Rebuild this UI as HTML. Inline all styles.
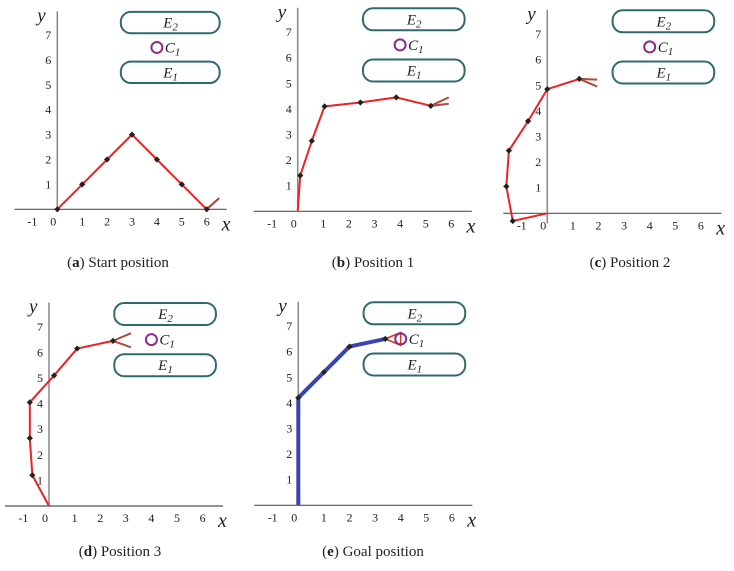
<!DOCTYPE html>
<html><head><meta charset="utf-8"><style>
body{margin:0;background:#fff;width:734px;height:571px;overflow:hidden}
svg{position:absolute;left:0;top:0}
text{font-family:"Liberation Serif",serif}
</style></head><body>
<svg id="fig" width="734" height="571" viewBox="0 0 734 571"></svg>
<script>
const panelIds=["a","b","c","d","e"];
const panelCaptionsBold=["a","b","c","d","e"];
const panelCaptions=[" Start position"," Position 1"," Position 2"," Position 3"," Goal position"];
const chainA=[[0,0],[1,1],[2,2],[3,3],[4,2],[5,1],[6,0]];
const chainB=[[0,0],[0.1,1.4],[0.55,2.75],[1.05,4.1],[2.45,4.25],[3.85,4.45],[5.2,4.12]];
const chainC=[[0,0],[-1.35,-0.3],[-1.6,1.05],[-1.5,2.45],[-0.75,3.6],[0,4.85],[1.25,5.25]];
const chainD=[[0,0],[-0.65,1.2],[-0.75,2.65],[-0.75,4.05],[0.2,5.1],[1.1,6.15],[2.5,6.45]];
const chainE=[[0,0],[0,4.2],[1,5.2],[2,6.2],[3.4,6.5]];
const grippers=[[[6.5,0.45],[6.5,0.45]],[[5.9,4.45],[5.9,4.2]],[[1.95,5.22],[1.95,4.95]],[[3.2,6.75],[3.2,6.2]],[[4,6.75],[4,6.25]]];
const xTicks=[-1,0,1,2,3,4,5,6];
const yTicks=[1,2,3,4,5,6,7];
const chains=[chainA,chainB,chainC,chainD,chainE];
const layout=[{ox:57.3,oy:209.3,u:24.9,cx:118,cy:267},{ox:297.7,oy:211.3,u:25.6,cx:373,cy:267},{ox:547.3,oy:213.3,u:25.6,cx:630,cy:267},{ox:49,oy:506,u:25.6,cx:120,cy:556},{ox:298.3,oy:505.3,u:25.6,cx:373,cy:556}];
const NS="http://www.w3.org/2000/svg";
const svg=document.getElementById("fig");
function mk(tag,attrs,parent,txt){const e=document.createElementNS(NS,tag);for(const k in attrs)e.setAttribute(k,attrs[k]);if(txt!==undefined)e.textContent=txt;parent.appendChild(e);return e;}
panelIds.forEach((id,i)=>{
 const L=layout[i];
 const X=v=>L.ox+v*L.u, Y=v=>L.oy-v*L.u;
 const g=mk("g",{},svg);
 
 
 const xa=mk("line",{x1:X(-1.72),y1:L.oy,x2:X(6.8),y2:L.oy,stroke:"#555","stroke-width":1.2},g);
 
 
 const ya=mk("line",{x1:L.ox,y1:Y(i==2?-0.4:0),x2:L.ox,y2:Y(7.95),stroke:"#888","stroke-width":1.5},g);
 
 
 xTicks.forEach(t=>{const tx=mk("text",{x:X(t)-(t===0?4:0),y:L.oy+16,"font-size":12,"text-anchor":"middle",fill:"#222"},g,String(t));
  
  });
 yTicks.forEach(t=>{const ty=mk("text",{x:L.ox-9,y:Y(t)+4,"font-size":12,"text-anchor":"middle",fill:"#222"},g,String(t));
  
  });
 const xl=mk("text",{x:X(6.6),y:L.oy+21,"font-size":20,"font-style":"italic",fill:"#222"},g,"x");
 
 
 const yl=mk("text",{x:L.ox-20,y:Y(7.55),"font-size":19,"font-style":"italic",fill:"#222"},g,"y");
 
 
 [["E","2",7.5,"obstacle-e2"],["E","1",5.5,"obstacle-e1"]].forEach(b=>{
  const r=mk("rect",{x:X(2.55),y:Y(b[2]+0.43),width:X(6.52)-X(2.55),height:0.86*L.u,rx:10,fill:"none",stroke:"#2f6b6a","stroke-width":2},g);
  
  
  const t=mk("text",{x:X(4.55),y:Y(b[2])+5,"font-size":15,"font-style":"italic","text-anchor":"middle",fill:"#222"},g);
  
  
  t.appendChild(document.createTextNode(b[0]));
  mk("tspan",{"font-size":11,dy:3},t,b[1]);
 });
 const path=chains[i];
 const gp=grippers[i];
 const end=path[path.length-1];
 if(i===4){
  const gl=mk("polygon",{points:`${X(end[0])},${Y(end[1])} ${X(gp[0][0])},${Y(gp[0][1])} ${X(gp[1][0])},${Y(gp[1][1])}`,fill:"none",stroke:"#d03a2a","stroke-width":1.6},g);
  
  
 }
 const c=mk("circle",{cx:X(4),cy:Y(6.5),r:5.5,fill:"none",stroke:"#8e2a8e","stroke-width":2},g);
 
 
 const ct=mk("text",{x:X(4)+8,y:Y(6.5)+5,"font-size":15,"font-style":"italic",fill:"#222"},g);
 
 
 ct.appendChild(document.createTextNode("C"));
 mk("tspan",{"font-size":11,dy:3},ct,"1");
 const pts=path.map(p=>X(p[0])+","+Y(p[1])).join(" ");
 const pl=mk("polyline",{points:pts,fill:"none",stroke:i===4?"#3a44b0":"#ee2222","stroke-width":i===4?4:2,"stroke-linejoin":"round"},g);
 
 
 if(i!==4){
  gp.forEach(q=>{const l=mk("line",{x1:X(end[0]),y1:Y(end[1]),x2:X(q[0]),y2:Y(q[1]),stroke:"#b0483c","stroke-width":2},g);
   
   });
 }
 path.forEach((p,k)=>{if(k===0&&i!==0)return;const d=mk("rect",{x:X(p[0])-2.2,y:Y(p[1])-2.2,width:4.4,height:4.4,fill:"#222",transform:`rotate(45 ${X(p[0])} ${Y(p[1])})`},g);
  
  });
 const cap=mk("text",{x:L.cx,y:L.cy,"font-size":15,"text-anchor":"middle",fill:"#222"},g);
 
 
 cap.appendChild(document.createTextNode("("));
 mk("tspan",{"font-weight":"bold"},cap,panelCaptionsBold[i]);
 cap.appendChild(document.createTextNode(")"+panelCaptions[i]));
});
</script>
</body></html>
